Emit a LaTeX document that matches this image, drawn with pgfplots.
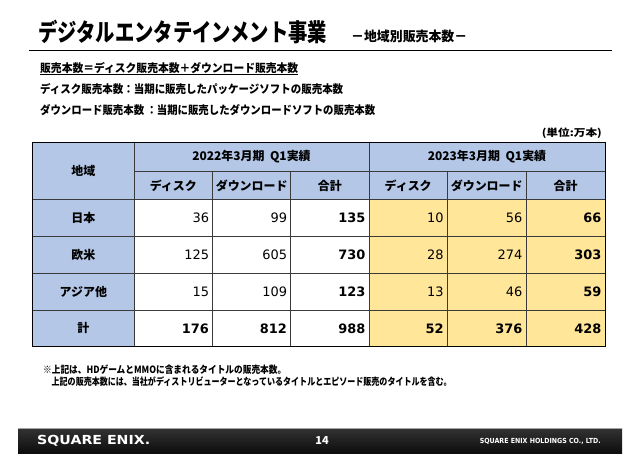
\documentclass[border=0pt]{standalone}
\usepackage{pgfplots}
\pgfplotsset{compat=1.18}
\usepackage{pgfplotstable}
\usepackage{graphicx}
\usepackage{fontspec}
\newfontfamily\jp{Noto Sans CJK JP}
\newfontfamily\num{DejaVu Sans}
\setmainfont{Noto Sans CJK JP}
\newcommand\fitw[2]{\resizebox{#1}{\height}{#2}}
\definecolor{hdrblue}{HTML}{B4C7E7}
\definecolor{yel}{HTML}{FFE699}
\definecolor{gridc}{HTML}{3A3A3A}

\pgfplotstableread{
x y t
209.2 218 36
287.2 218 99
443.8 218 10
522.5 218 56
209.2 255 125
287.2 255 605
443.8 255 28
522.5 255 274
209.2 291.7 15
287.2 291.7 109
443.8 291.7 13
522.5 291.7 46
}\regular

\pgfplotstableread{
x y t
365.5 218 135
601.5 218 66
365.5 255 730
601.5 255 303
365.5 291.7 123
601.5 291.7 59
209.2 328.3 176
287.2 328.3 812
365.5 328.3 988
443.8 328.3 52
522.5 328.3 376
601.5 328.3 428
}\boldv

\begin{document}
\begin{tikzpicture}
\begin{axis}[
  scale only axis, width=640bp, height=453bp,
  xmin=0, xmax=640, ymin=0, ymax=453, y dir=reverse,
  hide axis, clip=false,
]
% background
\fill[white] (axis cs:0,0) rectangle (axis cs:640,453);
% title
\node[anchor=base west, inner sep=0, font=\jp\bfseries\fontsize{24.5}{26}\selectfont] at (axis cs:38,41.5) {\fitw{289bp}{デジタルエンタテインメント事業}};
\node[anchor=base west, inner sep=0, font=\jp\bfseries\fontsize{13.5}{15}\selectfont] at (axis cs:351,41.5) {\fitw{116bp}{－地域別販売本数－}};
\draw[black, line width=1.8bp] (axis cs:29,50.5) -- (axis cs:612,50.5);
% definitions
\node[anchor=west, inner sep=0, font=\jp\bfseries\fontsize{11.5}{13}\selectfont] at (axis cs:40,68) {\fitw{258bp}{販売本数＝ディスク販売本数＋ダウンロード販売本数}};
\draw[black, line width=0.7bp] (axis cs:40,74.6) -- (axis cs:298,74.6);
\node[anchor=west, inner sep=0, font=\jp\bfseries\fontsize{11.5}{13}\selectfont] at (axis cs:40,89) {\fitw{303bp}{ディスク販売本数：当期に販売したパッケージソフトの販売本数}};
\node[anchor=west, inner sep=0, font=\jp\bfseries\fontsize{11.5}{13}\selectfont] at (axis cs:40,110) {\fitw{335bp}{ダウンロード販売本数\ ：当期に販売したダウンロードソフトの販売本数}};
\node[anchor=east, inner sep=0, font=\jp\bfseries\fontsize{10}{12}\selectfont] at (axis cs:602,133) {\fitw{60bp}{(単位:万本)}};
% table fills
\fill[hdrblue] (axis cs:32.7,142.7) rectangle (axis cs:605,199.3);
\fill[hdrblue] (axis cs:32.7,199.3) rectangle (axis cs:134,346.7);
\fill[yel] (axis cs:369,199.3) rectangle (axis cs:605,346.7);
% grid
\draw[gridc, line width=0.9bp] (axis cs:134,171) -- (axis cs:605,171);
\draw[gridc, line width=0.9bp] (axis cs:32.7,199.3) -- (axis cs:605,199.3);
\draw[gridc, line width=0.9bp] (axis cs:32.7,236.7) -- (axis cs:605,236.7);
\draw[gridc, line width=0.9bp] (axis cs:32.7,273.3) -- (axis cs:605,273.3);
\draw[gridc, line width=0.9bp] (axis cs:32.7,310) -- (axis cs:605,310);
\draw[gridc, line width=0.9bp] (axis cs:212.7,171) -- (axis cs:212.7,346.7);
\draw[gridc, line width=0.9bp] (axis cs:290.7,171) -- (axis cs:290.7,346.7);
\draw[gridc, line width=0.9bp] (axis cs:447.3,171) -- (axis cs:447.3,346.7);
\draw[gridc, line width=0.9bp] (axis cs:526,171) -- (axis cs:526,346.7);
\draw[gridc, line width=0.9bp] (axis cs:134,142.7) -- (axis cs:134,346.7);
\draw[gridc, line width=0.9bp] (axis cs:369,142.7) -- (axis cs:369,346.7);
\draw[black, line width=1bp] (axis cs:32.7,142.7) rectangle (axis cs:605,346.7);
% headers
\node[inner sep=0, font=\jp\bfseries\fontsize{12}{14}\selectfont] at (axis cs:83.3,171) {地域};
\node[inner sep=0, font=\jp\bfseries\fontsize{12}{14}\selectfont] at (axis cs:251.5,157) {2022年3月期\ \ Q1実績};
\node[inner sep=0, font=\jp\bfseries\fontsize{12}{14}\selectfont] at (axis cs:487,157) {2023年3月期\ \ Q1実績};
\node[inner sep=0, font=\jp\bfseries\fontsize{12}{14}\selectfont] at (axis cs:173.3,185.5) {ディスク};
\node[inner sep=0, font=\jp\bfseries\fontsize{12}{14}\selectfont] at (axis cs:251.7,185.5) {ダウンロード};
\node[inner sep=0, font=\jp\bfseries\fontsize{12}{14}\selectfont] at (axis cs:329.8,185.5) {合計};
\node[inner sep=0, font=\jp\bfseries\fontsize{12}{14}\selectfont] at (axis cs:408.2,185.5) {ディスク};
\node[inner sep=0, font=\jp\bfseries\fontsize{12}{14}\selectfont] at (axis cs:486.7,185.5) {ダウンロード};
\node[inner sep=0, font=\jp\bfseries\fontsize{12}{14}\selectfont] at (axis cs:565.5,185.5) {合計};
\node[inner sep=0, font=\jp\bfseries\fontsize{12}{14}\selectfont] at (axis cs:83.3,218) {日本};
\node[inner sep=0, font=\jp\bfseries\fontsize{12}{14}\selectfont] at (axis cs:83.3,255) {欧米};
\node[inner sep=0, font=\jp\bfseries\fontsize{12}{14}\selectfont] at (axis cs:83.3,291.7) {アジア他};
\node[inner sep=0, font=\jp\bfseries\fontsize{12}{14}\selectfont] at (axis cs:83.3,328.3) {計};
% data
\addplot[only marks, mark=*, mark size=0pt, mark options={draw=none,fill=none},
  point meta=explicit symbolic, nodes near coords,
  nodes near coords style={anchor=east, inner sep=0, font=\num\fontsize{13}{15}\selectfont, text=black}]
  table[x=x, y=y, meta=t] {\regular};
\addplot[only marks, mark=*, mark size=0pt, mark options={draw=none,fill=none},
  point meta=explicit symbolic, nodes near coords,
  nodes near coords style={anchor=east, inner sep=0, font=\num\bfseries\fontsize{13}{15}\selectfont, text=black}]
  table[x=x, y=y, meta=t] {\boldv};
% notes
\node[anchor=west, inner sep=0, font=\jp\bfseries\fontsize{10}{12}\selectfont] at (axis cs:43,370) {\fitw{243bp}{※上記は、HDゲームとMMOに含まれるタイトルの販売本数。}};
\node[anchor=west, inner sep=0, font=\jp\bfseries\fontsize{10}{12}\selectfont] at (axis cs:51.5,382) {\fitw{400bp}{上記の販売本数には、当社がディストリビューターとなっているタイトルとエピソード販売のタイトルを含む。}};
% footer
\shade[top color=black!80, bottom color=black!95] (axis cs:18,428) rectangle (axis cs:622,453);
\draw[gray!70, line width=1bp] (axis cs:18,428) -- (axis cs:622,428);
\node[anchor=west, inner sep=0, text=white, font=\num\bfseries\fontsize{12.5}{14}\selectfont] at (axis cs:37,440.5) {\fitw{113bp}{SQUARE ENIX.}};
\node[inner sep=0, text=white, font=\jp\bfseries\fontsize{11}{13}\selectfont] at (axis cs:322,441) {14};
\node[anchor=east, inner sep=0, text=white, font=\num\bfseries\fontsize{7}{8}\selectfont] at (axis cs:601,441) {\fitw{121bp}{SQUARE ENIX HOLDINGS CO., LTD.}};
\end{axis}
\end{tikzpicture}
\end{document}
